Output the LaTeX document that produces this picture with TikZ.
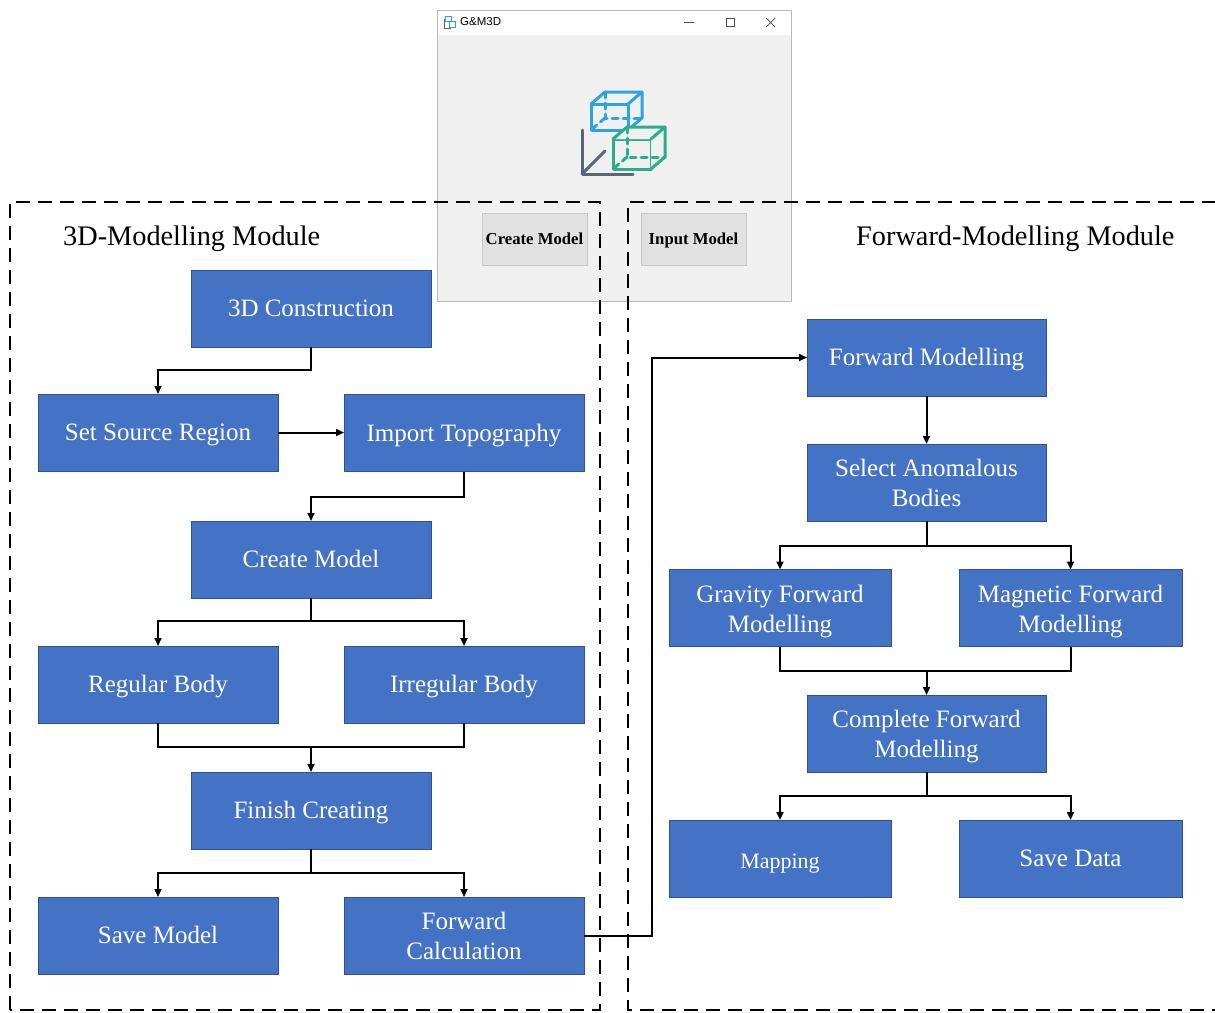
\documentclass[tikz,border=0pt]{standalone}
\usepackage{fontspec}
\setmainfont{Liberation Serif}
\newfontfamily\uisans{Liberation Sans}
\usetikzlibrary{arrows.meta,calc}
\definecolor{boxblue}{HTML}{4472C4}
\definecolor{boxedge}{HTML}{2F528F}
\definecolor{winbg}{HTML}{F0F0F0}
\definecolor{winedge}{HTML}{B9B9B9}
\definecolor{btnbg}{HTML}{E1E1E1}
\definecolor{btnedge}{HTML}{C8C8C8}
\definecolor{icoblue}{HTML}{2EA3DF}
\definecolor{icogreen}{HTML}{2DAE8A}
\definecolor{icogray}{HTML}{5B6577}
\begin{document}
\begin{tikzpicture}[x=1pt,y=-1pt,
  flowbox/.style={draw=boxedge,line width=0.8pt,fill=boxblue,text=white,
    minimum width=240pt,minimum height=77pt,inner sep=0pt,outer sep=0pt,
    align=center,font=\fontsize{25}{30}\selectfont,text height=16.5pt,text depth=0pt},
  twoline/.style={text height=48pt,text depth=0pt},
  narrowbox/.style={flowbox,minimum width=222pt},
  conn/.style={line width=2pt,black},
  arr/.style={conn,-{Triangle[length=8pt,width=7pt]}},
  modframe/.style={line width=2.2pt,dash pattern=on 14pt off 8pt},
  modtitle/.style={font=\fontsize{28.3}{32}\selectfont,inner sep=0pt},
  btn/.style={draw=btnedge,fill=btnbg,minimum width=105pt,minimum height=52pt,
    inner sep=0pt,font=\fontsize{16.7}{18}\selectfont\bfseries,text height=11pt,text depth=0pt},
  icoline/.style={line width=3pt,line cap=round,line join=round},
  icodash/.style={dash pattern=on 6pt off 5pt}
]
\useasboundingbox (0,0) rectangle (1215,1012);
\fill[white] (0,0) rectangle (1215,1012);

% ---------- application window ----------
\node[draw=winedge,fill=winbg,minimum width=354pt,minimum height=291pt,inner sep=0pt,anchor=north west] (win) at (437,10) {};
\fill[white] (437.5,10.5) rectangle (790.5,35);
\node[font=\uisans\fontsize{11.5}{13}\selectfont,anchor=west,inner sep=0pt] (wtitle) at (460,22) {G\&M3D};
% tiny title icon
\draw[icoblue,line width=0.8pt] (445,16) rectangle (451,21);
\draw[icogreen,line width=0.8pt] (449,21) rectangle (455,27);
\draw[icogray,line width=0.8pt] (444,19) -- (444,28) -- (451,28);
% window controls
\draw[black!70,line width=0.7pt] (684,22) -- (694,22);
\draw[black!70,line width=0.7pt] (726,18) rectangle (734,26);
\draw[black!70,line width=0.7pt] (766,18) -- (775,27) (775,18) -- (766,27);
% logo: blue cube
\begin{scope}[icoblue,icoline]
\draw (591,104) rectangle (628,130);
\draw (591,104) -- (605,92) -- (642,92) -- (642,118) -- (628,130);
\draw (628,104) -- (642,92);
\draw[icodash] (605,92) -- (605,118) -- (642,118);
\draw[icodash] (605,118) -- (591,130);
\end{scope}
% logo: green cube
\begin{scope}[icogreen,icoline]
\draw[fill=winbg] (613,139) rectangle (651,169);
\fill[winbg] (613,139) -- (627,127) -- (665,127) -- (665,157) -- (651,169) -- (651,139) -- cycle;
\draw (613,139) -- (627,127) -- (665,127) -- (665,157) -- (651,169);
\draw (651,139) -- (665,127);
\draw[icodash] (627,127) -- (627,157) -- (665,157);
\draw[icodash] (627,157) -- (613,169);
\end{scope}
% logo: axes
\draw[icogray,icoline] (582,130) -- (582,174) -- (633,174);
\draw[icogray,icoline] (582,174) -- (605,151);
% buttons
\node[btn] (bcreate) at (534.5,239) {Create Model};
\node[btn] (binput) at (693.5,239) {Input Model};

% ---------- module frames ----------
\draw[modframe] (10,1010) -- (10,202) -- (600,202) -- (600,1010) -- cycle;
\draw[modframe] (1216,202) -- (628,202) -- (628,1010) -- (1216,1010);
\node[modtitle,anchor=base west] (tleft) at (63,245) {3D-Modelling Module};
\node[modtitle,anchor=base west] (tright) at (856,245) {Forward-Modelling Module};

% ---------- left module ----------
\node[flowbox] (c3d) at (311,308.5) {3D Construction};
\node[flowbox] (src) at (158,432.5) {Set Source Region};
\node[flowbox] (topo) at (464,433) {Import Topography};
\node[flowbox] (cm) at (311,559.5) {Create Model};
\node[flowbox] (reg) at (158,684.5) {Regular Body};
\node[flowbox] (irr) at (464,684.5) {Irregular Body};
\node[flowbox] (fin) at (311,810.5) {Finish Creating};
\node[flowbox] (save) at (158,935.5) {Save Model};
\node[flowbox,twoline] (fcalc) at (464,935.5) {Forward\\Calculation};

% ---------- right module ----------
\node[flowbox,minimum width=239pt] (fm) at (926.5,357.5) {Forward Modelling};
\node[flowbox,twoline,minimum width=239pt] (sel) at (926.5,482.5) {Select Anomalous\\Bodies};
\node[narrowbox,twoline] (grav) at (780,608) {Gravity Forward\\Modelling};
\node[narrowbox,twoline,minimum width=223pt] (mag) at (1070.5,608) {Magnetic Forward\\Modelling};
\node[flowbox,twoline,minimum width=239pt] (comp) at (926.5,733.5) {Complete Forward\\Modelling};
\node[narrowbox,font=\fontsize{22}{26}\selectfont,text height=19pt] (map) at (780,858.5) {Mapping};
\node[narrowbox,minimum width=223pt] (sdata) at (1070.5,858.5) {Save Data};

% ---------- connectors (left) ----------
\draw[arr] (c3d.south) -- ++(0,23) -| (src.north);
\draw[arr] (src.east) -- (topo.west |- src.east);
\draw[arr] (topo.south) -- ++(0,25) -| (cm.north);
\coordinate (b1) at ($(cm.south)+(0,23)$);
\draw[conn] (cm.south) -- (b1);
\draw[arr] (b1) -| (reg.north);
\draw[arr] (b1) -| (irr.north);
\coordinate (m1) at ($(fin.north)+(0,-25)$);
\draw[conn] (reg.south) |- (m1) -| (irr.south);
\draw[arr] (m1) -- (fin.north);
\coordinate (b2) at ($(fin.south)+(0,24)$);
\draw[conn] (fin.south) -- (b2);
\draw[arr] (b2) -| (save.north);
\draw[arr] (b2) -| (fcalc.north);
\coordinate (fc) at (652,935.5);
\draw[arr] (fcalc.east) -- (fc) |- (fm.west);

% ---------- connectors (right) ----------
\draw[arr] (fm.south) -- (sel.north);
\coordinate (b3) at ($(sel.south)+(0,25)$);
\draw[conn] (sel.south) -- (b3);
\draw[arr] (b3) -| (grav.north);
\draw[arr] (b3) -| (mag.north);
\coordinate (m2) at ($(comp.north)+(0,-24)$);
\draw[conn] (grav.south) |- (m2) -| (mag.south);
\draw[arr] (m2) -- (comp.north);
\coordinate (b4) at ($(comp.south)+(0,24)$);
\draw[conn] (comp.south) -- (b4);
\draw[arr] (b4) -| (map.north);
\draw[arr] (b4) -| (sdata.north);
\end{tikzpicture}
\end{document}
